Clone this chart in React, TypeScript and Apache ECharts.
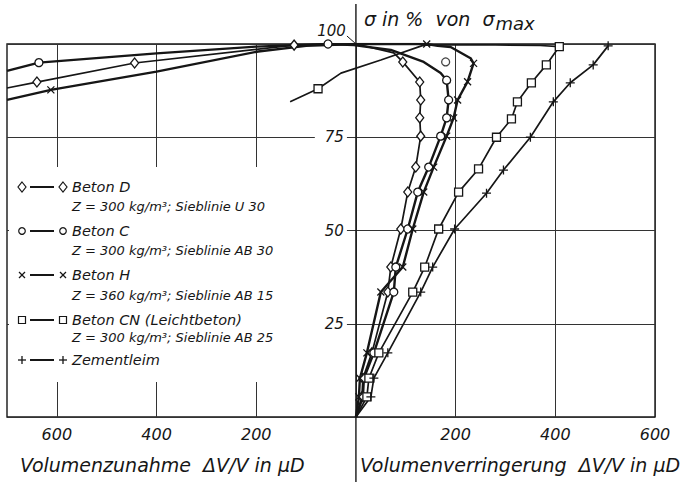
import React, { useEffect, useRef } from "react";
import * as echarts from "echarts";

// ---- data (x > 0: Volumenverringerung, x < 0: Volumenzunahme; y: σ in % von σmax)
const xLabelValues = [-600, -400, -200, 200, 400, 600];
const yLabelValues = [25, 50, 75];

const betonD_x = [-700, -640, -444, -124, 0, 76, 94, 128, 130, 128, 130, 120, 104, 90, 70, 64, 32, 14, 12, 0];
const betonD_y = [88.2, 89.8, 94.9, 99.7, 100, 97.6, 95.2, 89.8, 85, 80.2, 75.3, 67, 60.3, 50.4, 40.2, 33.5, 17.2, 10.4, 5.4, 0];
const betonD_mark = [0, 1, 1, 1, 0, 0, 1, 1, 1, 1, 1, 1, 1, 1, 1, 1, 1, 1, 1, 0];

const betonC_x = [-700, -636, -400, -200, -56, -4, 70, 136, 170, 182, 186, 182, 170, 146, 124, 104, 80, 76, 36, 16, 14, 0];
const betonC_y = [92.8, 95, 97.5, 99.3, 100, 99.7, 98.4, 95.2, 92.2, 90.3, 85, 80.2, 75.3, 67, 60.3, 50.4, 40.2, 33.5, 17.2, 10.4, 5.4, 0];
const betonC_mark = [0, 1, 0, 0, 1, 0, 0, 0, 0, 1, 1, 1, 1, 1, 1, 1, 1, 1, 1, 1, 1, 0];
const betonC_extra = [[180, 95.2]];

const betonH_x = [-700, -612, -400, -196, -100, 0, 142, 164, 190, 230, 236, 224, 204, 196, 182, 156, 136, 114, 94, 50, 22, 8, 6, 0];
const betonH_y = [85, 87.7, 92.6, 98, 99.5, 100, 100, 99.5, 99.2, 96.2, 94.8, 89.9, 85, 80.2, 75.3, 67, 60.3, 50.4, 40.2, 33.5, 17.2, 10.4, 5.4, 0];
const betonH_mark = [0, 1, 0, 0, 0, 0, 1, 0, 0, 0, 1, 1, 1, 1, 1, 1, 1, 1, 1, 1, 1, 1, 1, 0];

const betonCN_x = [-132, -76, -30, 50, 136, 250, 370, 408, 382, 352, 324, 312, 282, 246, 206, 166, 138, 114, 46, 26, 22, 0];
const betonCN_y = [84.5, 88, 92.2, 95.7, 99.7, 99.8, 99.6, 99.3, 94.4, 89.6, 84.5, 79.9, 75, 66.5, 60.3, 50.4, 40.2, 33.5, 17.2, 10.4, 5.4, 0];
const betonCN_mark = [0, 1, 0, 0, 0, 0, 0, 1, 1, 1, 1, 1, 1, 1, 1, 1, 1, 1, 1, 1, 1, 0];

const zement_x = [0, 30, 36, 64, 130, 154, 198, 262, 296, 350, 396, 430, 476, 506];
const zement_y = [0, 5.4, 10.4, 17.2, 33.5, 40.2, 50.4, 60, 66.2, 75, 84.5, 89.6, 94.4, 99.5];
const zement_mark = [0, 1, 1, 1, 1, 1, 1, 1, 1, 1, 1, 1, 1, 1];

const legendNames = ["Beton D", "Beton C", "Beton H", "Beton CN (Leichtbeton)", "Zementleim"];
const legendSubs = [
  "Z = 300 kg/m³; Sieblinie U 30",
  "Z = 300 kg/m³; Sieblinie AB 30",
  "Z = 360 kg/m³; Sieblinie AB 15",
  "Z = 300 kg/m³; Sieblinie AB 25",
  "",
];

const INK = "#161616";
const FONT = "DejaVu Sans, Liberation Sans, sans-serif";
const CROSS = "path://M0,0L10,10M10,0L0,10";
const PLUS = "path://M5,0L5,10M0,5L10,5";

function lineSeries(name: string, xs: number[], ys: number[], mark: number[], symbol: string, size: number | number[], width: number) {
  return {
    name,
    type: "line",
    data: xs.map((x, i) => ({ value: [x, ys[i]], symbol: mark[i] ? symbol : "none" })),
    symbol,
    symbolSize: size,
    showSymbol: true,
    showAllSymbol: true,
    silent: true,
    lineStyle: { color: INK, width },
    itemStyle: { color: "#fff", borderColor: INK, borderWidth: 1.3 },
    emphasis: { disabled: true },
    z: 3,
  };
}

export default function App() {
  const ref = useRef<HTMLDivElement>(null);
  useEffect(() => {
    const chart = echarts.init(ref.current!, null, { renderer: "svg" });
    const option: any = {
      animation: false,
      backgroundColor: "#fff",
      grid: {
        left: 7,
        right: 38,
        top: 44,
        bottom: 65,
        containLabel: false,
        outerBoundsMode: "none",
        show: true,
        borderColor: INK,
        borderWidth: 1.4,
        backgroundColor: "transparent",
      },
      xAxis: {
        type: "value",
        min: -700,
        max: 600,
        interval: 100,
        axisLine: { show: false },
        axisTick: { show: false },
        splitLine: { show: true, lineStyle: { color: ["transparent", "#333"], width: 1 } },
        axisLabel: {
          margin: 9,
          fontSize: 16,
          fontStyle: "italic",
          fontFamily: FONT,
          color: INK,
          formatter: (v: number) => (xLabelValues.includes(v) ? String(Math.abs(v)) : ""),
        },
      },
      yAxis: {
        type: "value",
        min: 0,
        max: 100,
        interval: 25,
        axisLine: { show: false },
        axisTick: { show: false },
        axisLabel: { show: false },
        splitLine: { show: true, lineStyle: { color: "#333", width: 1 } },
      },
      series: [
        lineSeries("Beton D", betonD_x, betonD_y, betonD_mark, "diamond", [8, 10], 1.7),
        lineSeries("Beton C", betonC_x, betonC_y, betonC_mark, "circle", 8, 2.4),
        lineSeries("Beton H", betonH_x, betonH_y, betonH_mark, CROSS, 7, 2.4),
        lineSeries("Beton CN", betonCN_x, betonCN_y, betonCN_mark, "rect", 8, 1.7),
        lineSeries("Zementleim", zement_x, zement_y, zement_mark, PLUS, 9, 1.7),
        {
          type: "scatter",
          data: betonC_extra,
          symbol: "circle",
          symbolSize: 8,
          silent: true,
          itemStyle: { color: "#fff", borderColor: INK, borderWidth: 1.3 },
          z: 3,
        },
      ],
    };
    chart.setOption(option);

    const px = (x: number, y: number) => chart.convertToPixel({ gridIndex: 0 } as any, [x, y]) as number[];
    const [x0, yTop] = px(0, 100);

    const stroke = { stroke: INK, lineWidth: 1.3, fill: "none" };
    const sym = (kind: number, cx: number, cy: number): any => {
      const st = { stroke: INK, lineWidth: 1.2, fill: "#fff" };
      if (kind === 0)
        return { type: "polygon", z: 11, shape: { points: [[cx, cy - 5], [cx + 4, cy], [cx, cy + 5], [cx - 4, cy]] }, style: st };
      if (kind === 1) return { type: "circle", z: 11, shape: { cx, cy, r: 3.3 }, style: st };
      if (kind === 3) return { type: "rect", z: 11, shape: { x: cx - 3.5, y: cy - 3.5, width: 7, height: 7 }, style: st };
      if (kind === 2)
        return {
          type: "group",
          z: 11,
          children: [
            { type: "line", z: 11, shape: { x1: cx - 3, y1: cy - 3, x2: cx + 3, y2: cy + 3 }, style: stroke },
            { type: "line", z: 11, shape: { x1: cx + 3, y1: cy - 3, x2: cx - 3, y2: cy + 3 }, style: stroke },
          ],
        };
      return {
        type: "group",
        z: 11,
        children: [
          { type: "line", z: 11, shape: { x1: cx - 4, y1: cy, x2: cx + 4, y2: cy }, style: stroke },
          { type: "line", z: 11, shape: { x1: cx, y1: cy - 4, x2: cx, y2: cy + 4 }, style: stroke },
        ],
      };
    };

    const titleY = [187, 231, 275, 320, 360];
    const subY = [206, 250, 295, 337, 0];
    const legendEls: any[] = [];
    legendNames.forEach((name, i) => {
      const y = titleY[i];
      legendEls.push({ type: "line", z: 11, shape: { x1: 30, y1: y, x2: 54, y2: y }, style: { stroke: INK, lineWidth: 2 } });
      legendEls.push(sym(i, 22, y));
      legendEls.push(sym(i, 63, y));
      legendEls.push({
        type: "text",
        z: 11,
        x: 72,
        y,
        style: { text: name, font: `italic 14.5px ${FONT}`, fill: INK, verticalAlign: "middle" },
      });
      if (legendSubs[i])
        legendEls.push({
          type: "text",
          z: 11,
          x: 72,
          y: subY[i],
          style: { text: legendSubs[i], font: `italic 13px ${FONT}`, fill: INK, verticalAlign: "middle" },
        });
    });

    const yLabels = yLabelValues.map((v) => ({
      type: "text",
      z: 12,
      x: x0 - 9,
      y: px(0, v)[1],
      style: {
        text: String(v),
        font: `italic 15px ${FONT}`,
        fill: INK,
        align: "right",
        verticalAlign: "middle",
        backgroundColor: "#fff",
        padding: [2, 3, 2, 10],
      },
    }));

    chart.setOption({
      graphic: [
        { type: "rect", z: 10, shape: { x: 9, y: 167, width: 316, height: 215 }, style: { fill: "#fff" } },
        ...legendEls,
        ...yLabels,
        { type: "line", z: 12, shape: { x1: x0, y1: 4, x2: x0, y2: 482 }, style: { stroke: INK, lineWidth: 1.4 } },
        { type: "line", z: 12, shape: { x1: x0 - 9, y1: yTop - 8, x2: x0 - 1, y2: yTop - 1 }, style: { stroke: INK, lineWidth: 1 } },
        {
          type: "text",
          z: 12,
          x: x0 - 10,
          y: yTop - 13,
          style: { text: "100", font: `italic 15px ${FONT}`, fill: INK, align: "right", verticalAlign: "middle" },
        },
        {
          type: "text",
          z: 12,
          x: x0 + 8,
          y: 19,
          style: {
            text: "{a|σ in %  von  σ}{b|max}",
            verticalAlign: "middle",
            rich: {
              a: { font: `italic 19px ${FONT}`, fill: INK, color: INK },
              b: { font: `italic 18px ${FONT}`, fill: INK, color: INK, padding: [8, 0, 0, 1] },
            },
          },
        },
        {
          type: "text",
          z: 12,
          x: 20,
          y: 465,
          style: { text: "Volumenzunahme  ΔV/V in μD", font: `italic 19px ${FONT}`, fill: INK, verticalAlign: "middle" },
        },
        {
          type: "text",
          z: 12,
          x: x0 + 4,
          y: 465,
          style: { text: "Volumenverringerung  ΔV/V in μD", font: `italic 19px ${FONT}`, fill: INK, verticalAlign: "middle" },
        },
      ],
    });
    return () => chart.dispose();
  }, []);
  return <div ref={ref} style={{ position: "fixed", left: 0, top: 0, width: 693, height: 482, background: "#fff" }} />;
}
